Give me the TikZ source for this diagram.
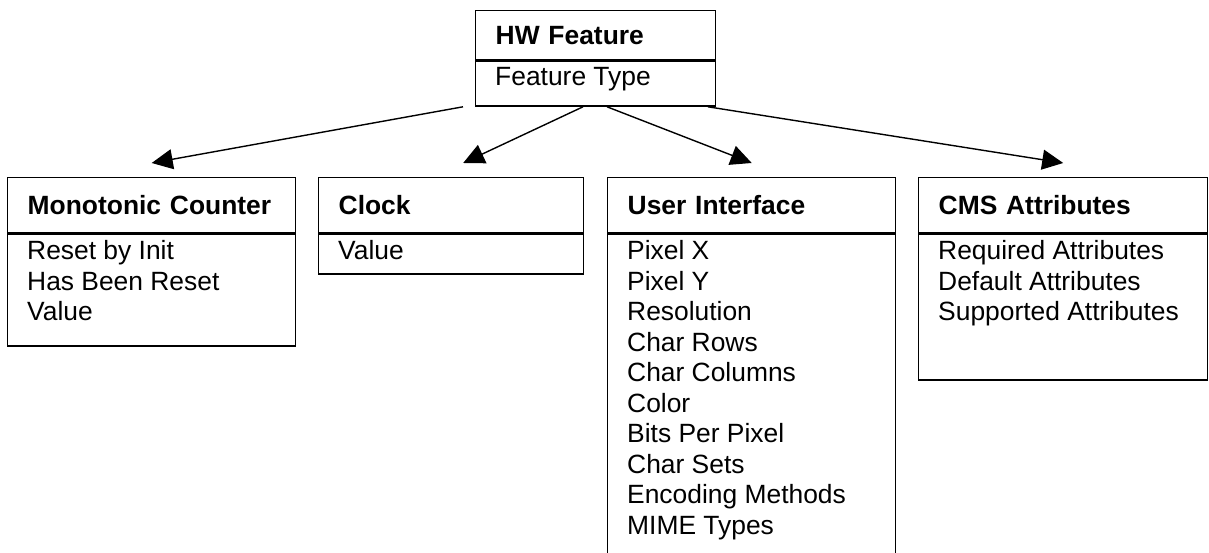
\documentclass[tikz,border=0pt]{standalone}
\usepackage{fontspec}
\setmainfont{Liberation Sans}
\usetikzlibrary{arrows.meta,calc}
\begin{document}
\begin{tikzpicture}[x=1pt, y=-1pt, >={Triangle[length=21pt,width=20pt]},
	head/.style={draw, line width=1.4pt, anchor=north west, inner xsep=20pt, inner ysep=0pt, align=left, minimum height=55pt, font=\fontsize{26.4pt}{30.5pt}\selectfont\bfseries},
	body/.style={draw, line width=1.4pt, anchor=north west, inner sep=0pt},
	item/.style={anchor=base west, inner sep=0pt, font=\fontsize{26.4pt}{30.5pt}\selectfont},
	link/.style={->, line width=1.4pt}]
	\useasboundingbox (0,0) rectangle (1209,553);
	\clip (0,0) rectangle (1209,553);
	\node[head, text width=200pt, minimum height=49pt] (hw) at (475,10) {HW Feature};
	\node[body, minimum width=240pt, minimum height=45pt] (hw-body) at (hw.south west) {};
	\node[item] (hw-1) at (495,86) {Feature Type};
	\node[head, text width=248pt] (mc) at (7,177) {Monotonic Counter};
	\node[body, minimum width=288pt, minimum height=112pt] (mc-body) at (mc.south west) {};
	\foreach \t [count=\i] in {Reset by Init, Has Been Reset, Value}
		\node[item] (mc-\i) at (27,229+30.5*\i) {\t};
	\node[head, text width=225pt] (clock) at (318,177) {Clock};
	\node[body, minimum width=265pt, minimum height=40pt] (clock-body) at (clock.south west) {};
	\node[item] (clock-1) at (338,259.5) {Value};
	\node[head, text width=248pt] (ui) at (607,177) {User Interface};
	\node[body, minimum width=288pt, minimum height=340pt] (ui-body) at (ui.south west) {};
	\foreach \t [count=\i] in {Pixel X, Pixel Y, Resolution, Char Rows, Char Columns, Color, Bits Per Pixel, Char Sets, Encoding Methods, MIME Types}
		\node[item] (ui-\i) at (627,229+30.5*\i) {\t};
	\node[head, text width=249pt] (cms) at (918,177) {CMS Attributes};
	\node[body, minimum width=289pt, minimum height=146pt] (cms-body) at (cms.south west) {};
	\foreach \t [count=\i] in {Required Attributes, Default Attributes, Supported Attributes}
		\node[item] (cms-\i) at (938,229+30.5*\i) {\t};
	\draw[link] ($(hw-body.south west)+(-12,0)$) -- ($(mc.north)+(0,-14)$);
	\draw[link] ($(hw-body.south west)+(108,0)$) -- ($(clock.north)+(12,-14)$);
	\draw[link] ($(hw-body.south west)+(132,0)$) -- ($(ui.north)+(0,-14)$);
	\draw[link] ($(hw-body.south west)+(233,0)$) -- ($(cms.north)+(0,-14)$);
\end{tikzpicture}
\end{document}
